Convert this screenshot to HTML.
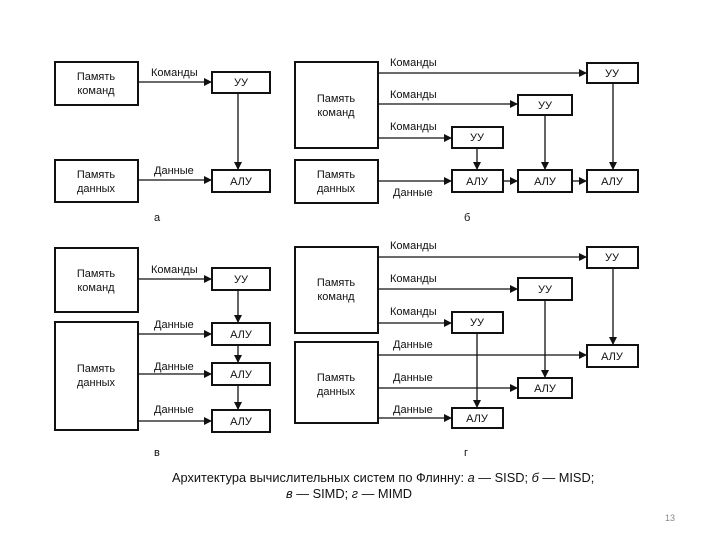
<!DOCTYPE html>
<html><head><meta charset="utf-8"><style>
html,body{margin:0;padding:0;background:#fff;}
svg{display:block;}
text{font-family:"Liberation Sans","DejaVu Sans",sans-serif;fill:#111;}
</style></head><body>
<svg width="720" height="540" viewBox="0 0 720 540" xmlns="http://www.w3.org/2000/svg">
<defs>
<marker id="a" markerWidth="8" markerHeight="8" refX="7" refY="4" orient="auto" markerUnits="userSpaceOnUse">
<path d="M0,0 L8,4 L0,8 Z" fill="#111"/></marker>
</defs>
<g fill="none" stroke="#111" stroke-width="2">
<rect x="55" y="62" width="83" height="43"/>
<rect x="55" y="160" width="83" height="42"/>
<rect x="212" y="72" width="58" height="21"/>
<rect x="212" y="170" width="58" height="22"/>
<rect x="295" y="62" width="83" height="86"/>
<rect x="295" y="160" width="83" height="43"/>
<rect x="587" y="63" width="51" height="20"/>
<rect x="518" y="95" width="54" height="20"/>
<rect x="452" y="127" width="51" height="21"/>
<rect x="452" y="170" width="51" height="22"/>
<rect x="518" y="170" width="54" height="22"/>
<rect x="587" y="170" width="51" height="22"/>
<rect x="55" y="248" width="83" height="64"/>
<rect x="55" y="322" width="83" height="108"/>
<rect x="212" y="268" width="58" height="22"/>
<rect x="212" y="323" width="58" height="22"/>
<rect x="212" y="363" width="58" height="22"/>
<rect x="212" y="410" width="58" height="22"/>
<rect x="295" y="247" width="83" height="86"/>
<rect x="295" y="342" width="83" height="81"/>
<rect x="587" y="247" width="51" height="21"/>
<rect x="518" y="278" width="54" height="22"/>
<rect x="452" y="312" width="51" height="21"/>
<rect x="587" y="345" width="51" height="22"/>
<rect x="518" y="378" width="54" height="20"/>
<rect x="452" y="408" width="51" height="20"/>
</g>
<g stroke="#111" stroke-width="1.3" marker-end="url(#a)">
<line x1="138" y1="82" x2="211" y2="82"/>
<line x1="138" y1="180" x2="211" y2="180"/>
<line x1="238" y1="93" x2="238" y2="169"/>
<line x1="378" y1="73" x2="586" y2="73"/>
<line x1="378" y1="104" x2="517" y2="104"/>
<line x1="378" y1="138" x2="451" y2="138"/>
<line x1="378" y1="181" x2="451" y2="181"/>
<line x1="503" y1="181" x2="517" y2="181"/>
<line x1="572" y1="181" x2="586" y2="181"/>
<line x1="477" y1="148" x2="477" y2="169"/>
<line x1="545" y1="115" x2="545" y2="169"/>
<line x1="613" y1="83" x2="613" y2="169"/>
<line x1="138" y1="279" x2="211" y2="279"/>
<line x1="138" y1="334" x2="211" y2="334"/>
<line x1="138" y1="374" x2="211" y2="374"/>
<line x1="138" y1="421" x2="211" y2="421"/>
<line x1="238" y1="290" x2="238" y2="322"/>
<line x1="238" y1="345" x2="238" y2="362"/>
<line x1="238" y1="385" x2="238" y2="409"/>
<line x1="378" y1="257" x2="586" y2="257"/>
<line x1="378" y1="289" x2="517" y2="289"/>
<line x1="378" y1="323" x2="451" y2="323"/>
<line x1="378" y1="355" x2="586" y2="355"/>
<line x1="378" y1="388" x2="517" y2="388"/>
<line x1="378" y1="418" x2="451" y2="418"/>
<line x1="477" y1="333" x2="477" y2="407"/>
<line x1="545" y1="300" x2="545" y2="377"/>
<line x1="613" y1="268" x2="613" y2="344"/>
</g>
<g font-size="11" text-anchor="middle">
<text x="96" y="80">Память</text><text x="96" y="94">команд</text>
<text x="96" y="178">Память</text><text x="96" y="192">данных</text>
<text x="241" y="86">УУ</text><text x="241" y="185">АЛУ</text>
<text x="336" y="102">Память</text><text x="336" y="116">команд</text>
<text x="336" y="178">Память</text><text x="336" y="192">данных</text>
<text x="612" y="77">УУ</text><text x="545" y="109">УУ</text><text x="477" y="141">УУ</text>
<text x="477" y="185">АЛУ</text><text x="545" y="185">АЛУ</text><text x="612" y="185">АЛУ</text>
<text x="96" y="277">Память</text><text x="96" y="291">команд</text>
<text x="96" y="372">Память</text><text x="96" y="386">данных</text>
<text x="241" y="283">УУ</text><text x="241" y="338">АЛУ</text><text x="241" y="378">АЛУ</text><text x="241" y="425">АЛУ</text>
<text x="336" y="286">Память</text><text x="336" y="300">команд</text>
<text x="336" y="381">Память</text><text x="336" y="395">данных</text>
<text x="612" y="261">УУ</text><text x="545" y="293">УУ</text><text x="477" y="326">УУ</text>
<text x="612" y="360">АЛУ</text><text x="545" y="392">АЛУ</text><text x="477" y="422">АЛУ</text>
</g>
<g font-size="11">
<text x="151" y="76">Команды</text>
<text x="154" y="174">Данные</text>
<text x="390" y="66">Команды</text>
<text x="390" y="98">Команды</text>
<text x="390" y="130">Команды</text>
<text x="393" y="196">Данные</text>
<text x="151" y="273">Команды</text>
<text x="154" y="328">Данные</text>
<text x="154" y="370">Данные</text>
<text x="154" y="413">Данные</text>
<text x="390" y="249">Команды</text>
<text x="390" y="282">Команды</text>
<text x="390" y="315">Команды</text>
<text x="393" y="348">Данные</text>
<text x="393" y="381">Данные</text>
<text x="393" y="413">Данные</text>
<text x="154" y="221">а</text>
<text x="464" y="221">б</text>
<text x="154" y="456">в</text>
<text x="464" y="456">г</text>
</g>
<g font-size="12.8">
<text x="172" y="482">Архитектура вычислительных систем по Флинну: <tspan font-style="italic">а</tspan> — SISD; <tspan font-style="italic">б</tspan> — MISD;</text>
<text x="286" y="498"><tspan font-style="italic">в</tspan> — SIMD; <tspan font-style="italic">г</tspan> — MIMD</text>
</g>
<text x="665" y="521" font-size="9" style="fill:#888">13</text>
</svg>
</body></html>
